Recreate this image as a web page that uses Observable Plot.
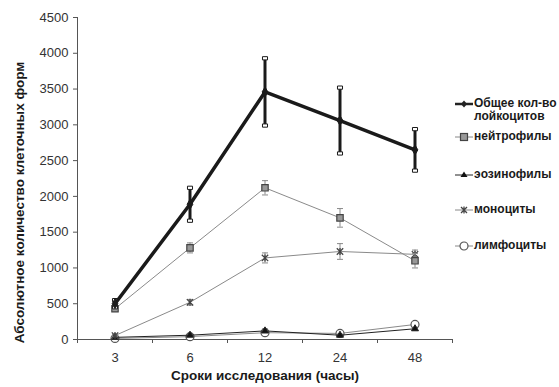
<!DOCTYPE html>
<html><head><meta charset="utf-8">
<script src="https://cdn.jsdelivr.net/npm/d3@7"></script>
<script src="https://cdn.jsdelivr.net/npm/@observablehq/plot@0.6"></script>
<style>
body{margin:0;background:#fff;}
#wrap{position:relative;width:559px;height:387px;font-family:"Liberation Sans",Arial,sans-serif;}
#legend{position:absolute;left:0;top:0;}
.lg{position:absolute;font-weight:bold;font-size:12px;color:#1a1a1a;line-height:12.5px;white-space:nowrap;}
</style></head>
<body><div id="wrap"></div>
<script>
const times = ["3","6","12","24","48"];
const seriesNames = ["Общее кол-во лойкоцитов","нейтрофилы","эозинофилы","моноциты","лимфоциты"];
const total = [500, 1890, 3460, 3060, 2650];
const totalErr = [50, 230, 470, 460, 290];
const neutro = [430, 1280, 2120, 1700, 1100];
const neutroErr = [40, 70, 100, 130, 100];
const eos = [30, 60, 120, 60, 150];
const eosErr = [10, 15, 25, 15, 20];
const mono = [55, 520, 1140, 1230, 1190];
const monoErr = [15, 40, 70, 110, 60];
const lymph = [15, 40, 95, 85, 210];
const lymphErr = [5, 10, 20, 20, 25];
const yTicks = [0,500,1000,1500,2000,2500,3000,3500,4000,4500];
const xTitle = "Сроки исследования (часы)";
const yTitle = "Абсолютное количество клеточных форм";

const rows = v => e => times.map((t,i)=>({i, v: v[i], e: e[i]}));
const dTotal = rows(total)(totalErr), dNeu = rows(neutro)(neutroErr), dEos = rows(eos)(eosErr),
      dMono = rows(mono)(monoErr), dLym = rows(lymph)(lymphErr);

const capLine = {draw(ctx, size){ const r = Math.sqrt(size/Math.PI); ctx.moveTo(-r,0); ctx.lineTo(r,0); }};
const capBox = {draw(ctx, size){ const r = Math.sqrt(size/Math.PI); ctx.rect(-r*0.7,-r*0.45,r*1.4,r*0.9); }};
const star = {draw(ctx, size){ const r = Math.sqrt(size/Math.PI);
  ctx.moveTo(-r,-r); ctx.lineTo(r,r); ctx.moveTo(-r,r); ctx.lineTo(r,-r); ctx.moveTo(0,-r*1.1); ctx.lineTo(0,r*1.1); }};

const gray = "#8a8a8a";
function series(d, opts){
  const marks = [
    Plot.ruleX(d, {x:"i", y1: r=>r.v-r.e, y2: r=>r.v+r.e, stroke: opts.errStroke||gray, strokeWidth: opts.errW||1}),
    Plot.dot(d, {x:"i", y: r=>r.v+r.e, symbol: opts.cap||capLine, r: opts.capR||3, stroke: opts.errStroke||gray, fill: opts.capFill||"none", strokeWidth: 1}),
    Plot.dot(d, {x:"i", y: r=>r.v-r.e, symbol: opts.cap||capLine, r: opts.capR||3, stroke: opts.errStroke||gray, fill: opts.capFill||"none", strokeWidth: 1}),
    Plot.line(d, {x:"i", y:"v", stroke: opts.stroke, strokeWidth: opts.sw||1})
  ];
  if (opts.symbol) marks.push(Plot.dot(d, {x:"i", y:"v", symbol: opts.symbol, r: opts.r||3, stroke: opts.mStroke||opts.stroke, fill: opts.fill||"none", strokeWidth: opts.msw||1}));
  return marks;
}

const chart = Plot.plot({
  width: 559, height: 387,
  marginLeft: 77, marginRight: 107, marginTop: 17, marginBottom: 48,
  style: {fontFamily: '"Liberation Sans", Arial, sans-serif', fontSize: "13px", color: "#333", background: "#fff"},
  x: {type: "linear", domain: [-0.5, 4.5]},
  y: {domain: [0, 4500]},
  marks: [
    Plot.axisY({ticks: yTicks, tickFormat: d => String(d), tickSize: 4, tickPadding: 5, label: null, stroke: "#555"}),
    Plot.axisX({ticks: times.map((t,i)=>i), tickFormat: i=>times[i], tickSize: 0, tickPadding: 13, label: null}),
    Plot.axisX({ticks: d3.range(-0.5, times.length, 1), tickFormat: ()=>"", tickSize: 4, label: null, stroke: "#555"}),
    Plot.ruleY([0], {stroke: "#555"}),
    Plot.ruleX([-0.5], {stroke: "#555"}),
    ...series(dLym, {stroke: gray, symbol: "circle", r: 4, fill: "#fff", mStroke: "#555", msw: 1.2}),
    ...series(dEos, {stroke: "#222", symbol: "triangle", r: 2.6, fill: "#111", errStroke: "#555"}),
    ...series(dMono, {stroke: gray, symbol: star, r: 3.2, mStroke: "#444", msw: 1.3}),
    ...series(dNeu, {stroke: gray, symbol: "square", r: 3.6, fill: "#999", mStroke: "#444", msw: 1.2}),
    ...series(dTotal, {stroke: "#1a1a1a", sw: 3.5, errStroke: "#1a1a1a", errW: 3, cap: capBox, capR: 3.6, capFill: "#fff", symbol: "diamond", r: 3, fill: "#1a1a1a"}),
    Plot.text([xTitle], {frameAnchor: "bottom", dy: 40, fontWeight: "bold", fontSize: 13.5, fill: "#1a1a1a"}),
    Plot.text([yTitle], {frameAnchor: "left", textAnchor: "middle", rotate: -90, dx: -58, dy: 24, fontWeight: "bold", fontSize: 13.5, fill: "#1a1a1a"})
  ]
});
const wrap = document.getElementById("wrap");
wrap.appendChild(chart);

// legend
const lg = document.createElement("div"); lg.id = "legend"; wrap.appendChild(lg);
const icons = [
  `<line x1="0" y1="7" x2="18" y2="7" stroke="#222" stroke-width="2.5"/><path d="M9 3.5L12 7L9 10.5L6 7Z" fill="#222"/>`,
  `<line x1="0" y1="7" x2="18" y2="7" stroke="#888" stroke-width="1"/><rect x="5.5" y="3.5" width="7" height="7" fill="#999" stroke="#444" stroke-width="1.2"/>`,
  `<line x1="0" y1="7" x2="18" y2="7" stroke="#222" stroke-width="1"/><path d="M9 3.5L12.5 9L5.5 9Z" fill="#111"/>`,
  `<line x1="0" y1="7" x2="18" y2="7" stroke="#888" stroke-width="1"/><path d="M6 4L12 10M6 10L12 4M9 3.5V10.5" stroke="#444" stroke-width="1.3"/>`,
  `<line x1="0" y1="7" x2="18" y2="7" stroke="#888" stroke-width="1"/><circle cx="9" cy="7" r="4" fill="#fff" stroke="#555" stroke-width="1.2"/>`
];
const lgY = [97, 130, 168, 203, 239];
seriesNames.forEach((n,k)=>{
  const el = document.createElement("div"); el.className = "lg";
  el.style.left = "455px"; el.style.top = lgY[k] + "px";
  const parts = k===0 ? ["Общее кол-во","лойкоцитов"] : [n];
  el.innerHTML = `<svg width="18" height="14" style="position:absolute;left:0;top:0">${icons[k]}</svg>` +
    `<div style="margin-left:19px">${parts.join("<br>")}</div>`;
  lg.appendChild(el);
});
</script></body></html>
